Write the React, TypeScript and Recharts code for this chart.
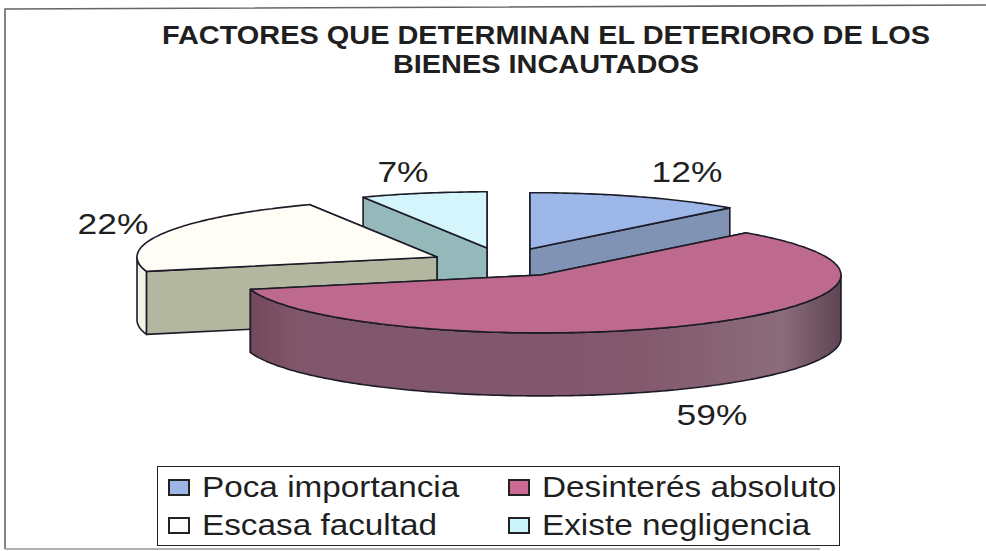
import { Legend, Pie, PieChart } from "recharts";

const CATEGORIES = ["Poca importancia", "Desinterés absoluto", "Escasa facultad", "Existe negligencia"];
const VALUES = [12, 59, 22, 7];
const TITLE_LINES = ["FACTORES QUE DETERMINAN EL DETERIORO DE LOS", "BIENES INCAUTADOS"];

// painted back to front, each slice is its own Pie so the order is free
const DRAW_ORDER = [3, 2, 0, 1];

const WIDTH = 986;
const HEIGHT = 551;
const CENTER_X = 510;
const CENTER_Y = 262;
const RADIUS = 300;
const SQUASH = 0.193;
const DEPTH = 63;
const FONT = '"Liberation Sans", Arial, sans-serif';
const OUTLINE = "#1c1c28";
const TEXT_COLOR = "#1f1f1f";

type SliceStyle = {
  top: string;
  wall: string;
  rim: string;
  swatch: string;
  dx: number;
  dy: number;
  scale: number;
  labelX: number;
  labelY: number;
};

const SLICE_STYLES: Record<string, SliceStyle> = {
  "Poca importancia": { top: "#9db8e8", wall: "#8093b5", rim: "#8093b5", swatch: "#9db6e6", dx: 20, dy: -13, scale: 0.973, labelX: 687, labelY: 182 },
  "Desinterés absoluto": { top: "#bd6a8e", wall: "#80566a", rim: "url(#rimPink)", swatch: "#cc6a95", dx: 31, dy: 13, scale: 1, labelX: 712, labelY: 425 },
  "Escasa facultad": { top: "#fffdf6", wall: "#b4b7a0", rim: "#f2f2e6", swatch: "#ffffff", dx: -73, dy: -5, scale: 1, labelX: 113, labelY: 234 },
  "Existe negligencia": { top: "#d3f5fb", wall: "#95b9ba", rim: "#95b9ba", swatch: "#ccf5fb", dx: -23, dy: -14, scale: 0.97, labelX: 403, labelY: 182 },
};

const total = VALUES.reduce((sum, value) => sum + value, 0);

// clockwise from twelve o'clock, in category order
function sliceAngles(index: number) {
  const before = VALUES.slice(0, index).reduce((sum, value) => sum + value, 0);
  const startAngle = 90 - (before / total) * 360;
  return { startAngle, endAngle: startAngle - (VALUES[index] / total) * 360 };
}

function toPath(points: number[][]) {
  return `${points.map(([x, y], i) => `${i === 0 ? "M" : "L"}${x.toFixed(1)},${y.toFixed(1)}`).join(" ")} Z`;
}

function Slice3D(props: any) {
  const { cx, cy, outerRadius, startAngle, endAngle, payload, name } = props;
  const style = SLICE_STYLES[payload?.name ?? name];
  const ax = cx + style.dx;
  const ay = cy + style.dy;
  const r = outerRadius * style.scale;

  const at = (deg: number, down = 0) => {
    const rad = (deg * Math.PI) / 180;
    return [ax + r * Math.cos(rad), ay - r * SQUASH * Math.sin(rad) + down];
  };

  const lo = Math.min(startAngle, endAngle);
  const hi = Math.max(startAngle, endAngle);
  const angles: number[] = [];
  for (let a = hi; a > lo; a -= 1) angles.push(a);
  angles.push(lo);

  const topPoints = [[ax, ay], ...angles.map((a) => at(a))];

  // walls: the one further back goes first
  const wallAngles = [hi, lo].sort((a, b) => Math.sin((b * Math.PI) / 180) - Math.sin((a * Math.PI) / 180));
  const walls = wallAngles.map((a) => [[ax, ay], at(a), at(a, DEPTH), [ax, ay + DEPTH]]);

  const front = angles.filter((a) => Math.sin((a * Math.PI) / 180) <= 0);
  const rim = front.length > 1 ? [...front.map((a) => at(a)), ...[...front].reverse().map((a) => at(a, DEPTH))] : null;

  return (
    <g>
      <defs>
        <linearGradient id="rimPink" x1="0" y1="0" x2="1" y2="0">
          <stop offset="0" stopColor="#75495c" />
          <stop offset="0.08" stopColor="#80566a" />
          <stop offset="0.65" stopColor="#83586c" />
          <stop offset="0.9" stopColor="#8b6c7b" />
          <stop offset="1" stopColor="#5f4553" />
        </linearGradient>
      </defs>
      {walls.map((points, i) => (
        <path key={i} d={toPath(points)} fill={style.wall} stroke={OUTLINE} strokeWidth={1.6} strokeLinejoin="round" />
      ))}
      {rim && <path d={toPath(rim)} fill={style.rim} stroke={OUTLINE} strokeWidth={1.6} strokeLinejoin="round" />}
      <path d={toPath(topPoints)} fill={style.top} stroke={OUTLINE} strokeWidth={1.6} strokeLinejoin="round" />
    </g>
  );
}

// the scan is stretched sideways, so the text gets a horizontal scale too
function PercentLabel(props: any) {
  const style = SLICE_STYLES[props.name ?? props.payload?.name];
  return (
    <text
      transform={`translate(${style.labelX},${style.labelY}) scale(1.22,1)`}
      textAnchor="middle"
      fontFamily={FONT}
      fontSize={29}
      fill={TEXT_COLOR}
    >
      {`${Math.round((props.value / total) * 100)}%`}
    </text>
  );
}

function LegendBox() {
  return (
    <div
      style={{
        width: 683,
        height: 80,
        boxSizing: "border-box",
        border: "1px solid #222",
        background: "#fff",
        display: "grid",
        gridTemplateColumns: "340px 1fr",
        gridTemplateRows: "1fr 1fr",
        alignItems: "center",
        paddingLeft: 9,
        paddingTop: 1,
        fontFamily: FONT,
        fontSize: 29,
        color: TEXT_COLOR,
      }}
    >
      {CATEGORIES.map((category) => (
        <div key={category} style={{ display: "flex", alignItems: "center", whiteSpace: "nowrap" }}>
          <span
            style={{
              width: 22,
              height: 17,
              marginLeft: 1,
              marginRight: 12,
              border: "2px solid #222",
              boxSizing: "border-box",
              background: SLICE_STYLES[category].swatch,
            }}
          />
          <span style={{ display: "inline-block", transform: "scaleX(1.148)", transformOrigin: "left center" }}>{category}</span>
        </div>
      ))}
    </div>
  );
}

export default function App() {
  return (
    <div style={{ position: "absolute", left: 0, top: 0, width: WIDTH, height: HEIGHT, background: "#fff" }}>
      <PieChart width={WIDTH} height={HEIGHT} margin={{ top: 0, right: 0, bottom: 0, left: 0 }}>
        <path d="M5,549 L5,9 L986,5" fill="none" stroke="#666" strokeWidth={1.6} />
        <path d="M5,549 L820,549" fill="none" stroke="#999" strokeWidth={1.5} />
        {TITLE_LINES.map((line, i) => (
          <text
            key={line}
            transform={`translate(546,${44 + i * 29}) scale(1.157,1)`}
            textAnchor="middle"
            fontFamily={FONT}
            fontWeight={700}
            fontSize={25}
            fill={TEXT_COLOR}
          >
            {line}
          </text>
        ))}
        {DRAW_ORDER.map((index) => (
          <Pie
            key={CATEGORIES[index]}
            data={[{ name: CATEGORIES[index], value: VALUES[index] }]}
            dataKey="value"
            nameKey="name"
            cx={CENTER_X}
            cy={CENTER_Y}
            outerRadius={RADIUS}
            {...sliceAngles(index)}
            stroke="none"
            labelLine={false}
            label={PercentLabel}
            shape={Slice3D}
            isAnimationActive={false}
          />
        ))}
        <Legend content={LegendBox} wrapperStyle={{ left: 157, top: 466, width: 683, bottom: "auto" }} />
      </PieChart>
    </div>
  );
}
